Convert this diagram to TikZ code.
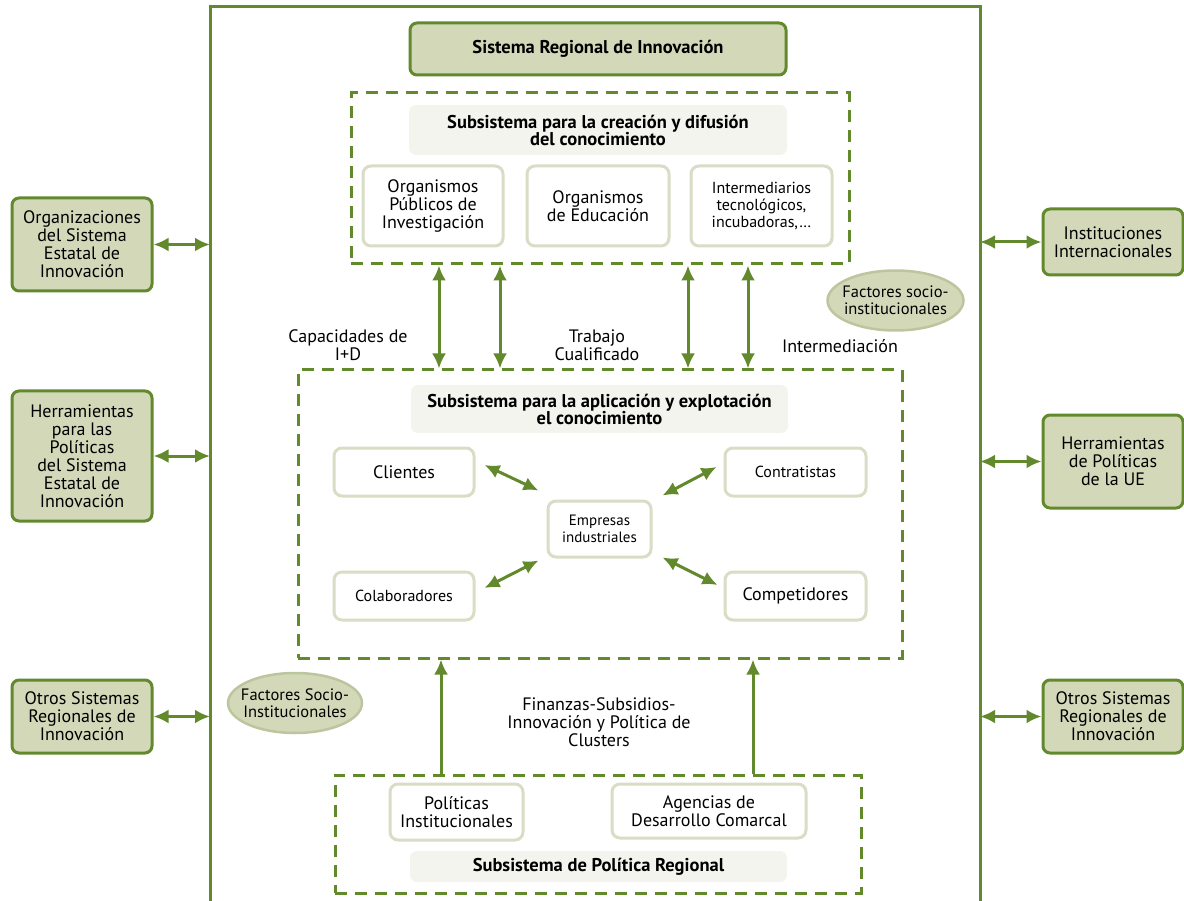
\documentclass[tikz,border=0pt]{standalone}
\usepackage{fontspec}
\setmainfont{PT Sans}
\usetikzlibrary{arrows.meta,shapes.geometric}

\definecolor{leaf}{RGB}{98,137,44}
\definecolor{olive}{RGB}{211,216,185}
\definecolor{paper}{RGB}{243,244,238}
\definecolor{pale}{RGB}{216,221,197}
\definecolor{sage}{RGB}{188,198,158}

\begin{document}
\begin{tikzpicture}[x=1pt, y=-1pt,
    every node/.style={font=\fontsize{18}{18}\selectfont, align=center, inner sep=0pt},
    outer/.style={draw=leaf, line width=3pt, fill=olive, rounded corners=7pt},
    group/.style={draw=leaf, line width=3pt, dash pattern=on 12pt off 8pt},
    head/.style={fill=paper, rounded corners=7pt, font=\fontsize{18.5}{17}\selectfont\bfseries},
    unit/.style={draw=pale, line width=3pt, fill=white, rounded corners=8pt},
    factor/.style={ellipse, draw=sage, line width=2.5pt, fill=olive, inner sep=-14pt, font=\fontsize{16.5}{17}\selectfont},
    dbl/.style={{Latex[length=15pt,width=14pt]}-{Latex[length=15pt,width=14pt]}, draw=leaf, line width=3pt},
    up/.style={-{Latex[length=15pt,width=14pt]}, draw=leaf, line width=3pt}
  ]
    \useasboundingbox (0,0) rectangle (1184,901);
    \draw[leaf, line width=3pt] (210,905) -- (210,7) -- (980,7) -- (980,905);
    \coordinate (fl) at (210,0);
    \coordinate (fr) at (980,0);

    \node[outer, minimum width=376pt, minimum height=52pt, font=\fontsize{18.5}{17}\selectfont\bfseries] (sri) at (598,49) {Sistema Regional de Innovación};

    \node[group, minimum width=498pt, minimum height=171pt] (sub1) at (600,178.5) {};
    \node[head, minimum width=378pt, minimum height=50pt] (head1) at (598,130) {Subsistema para la creación y difusión\\del conocimiento};
    \node[unit, minimum width=140pt, minimum height=80pt] (opi) at (433,206) {Organismos\\Públicos de\\Investigación};
    \node[unit, minimum width=142pt, minimum height=80pt] (oed) at (598,206) {Organismos\\de Educación};
    \node[unit, minimum width=141pt, minimum height=80pt, font=\fontsize{16}{17}\selectfont] (itm) at (761.5,206) {Intermediarios\\tecnológicos,\\incubadoras,\dots};

    \node[group, minimum width=604pt, minimum height=288pt] (sub2) at (600,514) {};
    \node[head, minimum width=377pt, minimum height=48pt] (head2) at (599.5,409) {Subsistema para la aplicación y explotación\\el conocimiento};
    \node[unit, minimum width=140pt, minimum height=48pt] (cli) at (404,472) {Clientes};
    \node[unit, minimum width=141pt, minimum height=48pt, font=\fontsize{16}{17}\selectfont] (con) at (795.5,472) {Contratistas};
    \node[unit, minimum width=103pt, minimum height=56pt, font=\fontsize{15}{17}\selectfont] (emp) at (599.5,529) {Empresas\\industriales};
    \node[unit, minimum width=140pt, minimum height=48pt, font=\fontsize{16}{17}\selectfont] (col) at (404,596) {Colaboradores};
    \node[unit, minimum width=141pt, minimum height=48pt] (com) at (795.5,596) {Competidores};

    \node[group, minimum width=526pt, minimum height=118pt] (sub3) at (598,834) {};
    \node[unit, minimum width=133pt, minimum height=56pt] (pol) at (456.5,812) {Políticas\\Institucionales};
    \node[unit, minimum width=194pt, minimum height=54pt] (age) at (709,811) {Agencias de\\Desarrollo Comarcal};
    \node[head, minimum width=377pt, minimum height=31pt] (head3) at (598.5,866.5) {Subsistema de Política Regional};

    \node[outer, minimum width=140pt, minimum height=93pt] (ose) at (82,244.5) {Organizaciones\\del Sistema\\Estatal de\\Innovación};
    \node[outer, minimum width=140pt, minimum height=130pt] (hpe) at (82,456) {Herramientas\\para las\\Políticas\\del Sistema\\Estatal de\\Innovación};
    \node[outer, minimum width=140pt, minimum height=73pt] (osl) at (82,716.5) {Otros Sistemas\\Regionales de\\Innovación};
    \node[outer, minimum width=140pt, minimum height=66pt] (iin) at (1113,242) {Instituciones\\Internacionales};
    \node[outer, minimum width=140pt, minimum height=93pt] (hue) at (1113,461.5) {Herramientas\\de Políticas\\de la UE};
    \node[outer, minimum width=140pt, minimum height=73pt] (osr) at (1113,716.5) {Otros Sistemas\\Regionales de\\Innovación};

    \node[factor, minimum width=136pt, minimum height=60pt] (fsi1) at (895.5,300.5) {Factores socio-\\institucionales};
    \node[factor, minimum width=134pt, minimum height=60pt] (fsi2) at (295,703) {Factores Socio-\\Institucionales};

    \node (cid) at (348,345) {Capacidades de\\I+D};
    \node (tcu) at (597,345) {Trabajo\\Cualificado};
    \node (int) at (840,346) {Intermediación};
    \node (fin) at (599,722) {Finanzas-Subsidios-\\Innovación y Política de\\Clusters};

    \draw[dbl] (ose) -- (ose -| fl);
    \draw[dbl] (hpe) -- (hpe -| fl);
    \draw[dbl] (osl) -- (osl -| fl);
    \draw[dbl] (iin) -- (iin -| fr);
    \draw[dbl] (hue) -- (hue -| fr);
    \draw[dbl] (osr) -- (osr -| fr);

    \foreach \x in {439,500,688,748}
      \draw[dbl] (sub1.south -| \x,0) -- (sub2.north -| \x,0);
    \foreach \x in {441,753}
      \draw[up] (sub3.north -| \x,0) -- (sub2.south -| \x,0);

    \draw[dbl] ([shift={(9,-7)}]cli.east) -- ([shift={(-8,-9)}]emp.north west);
    \draw[dbl] ([shift={(10,-4)}]emp.north east) -- ([shift={(-7,-5)}]con.west);
    \draw[dbl] ([shift={(9,-8)}]col.east) -- ([shift={(-8,2)}]emp.south west);
    \draw[dbl] ([shift={(10,-1)}]emp.south east) -- ([shift={(-6,-11)}]com.west);
  \end{tikzpicture}
\end{document}
